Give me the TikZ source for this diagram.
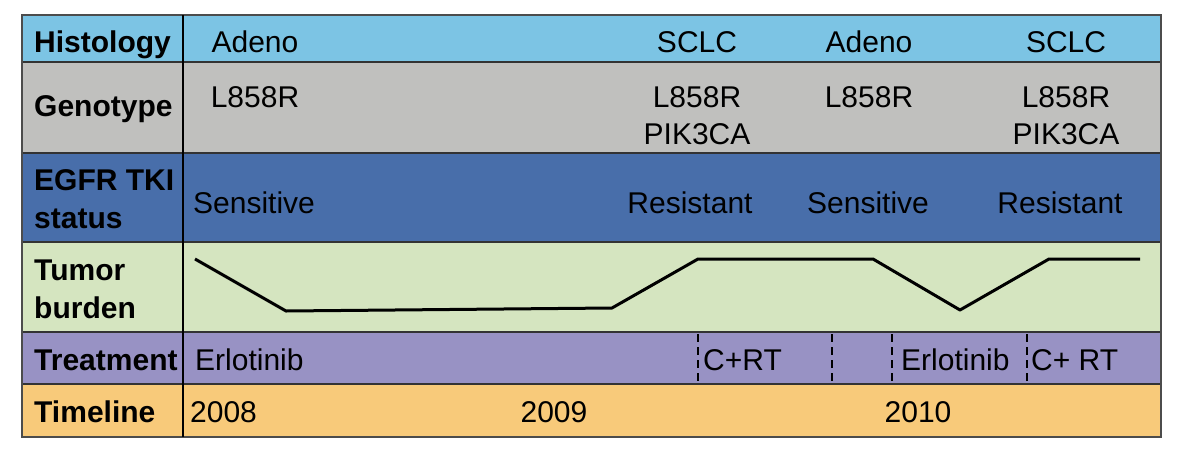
\documentclass[tikz,border=0pt]{standalone}
\usepackage{fontspec}
\setmainfont{Liberation Sans}
\usepackage{xcolor}
\usetikzlibrary{positioning, calc}

\definecolor{histcol}{RGB}{124,196,228}
\definecolor{genocol}{RGB}{192,192,190}
\definecolor{egfrcol}{RGB}{72,110,170}
\definecolor{tumorcol}{RGB}{213,229,192}
\definecolor{treatcol}{RGB}{152,146,196}
\definecolor{timecol}{RGB}{248,202,122}

\begin{document}
\begin{tikzpicture}[x=1pt, y=-1pt,
  every node/.style={font=\fontsize{30}{37}\selectfont, inner sep=0pt, anchor=base},
  rowlab/.style={font=\fontsize{30}{38}\selectfont\bfseries, anchor=base west, align=left},
  sepline/.style={draw=black!80, line width=1.5pt},
  treatdiv/.style={black, line width=2.2pt, dash pattern=on 8pt off 5pt},
  burden/.style={black, line width=3pt, line join=round}]
\useasboundingbox[fill=white] (0,0) rectangle (1186,458);
\pgfmathsetmacro{\xl}{22}
\pgfmathsetmacro{\xr}{1161}
\pgfmathsetmacro{\xd}{183}

% Row backgrounds
\foreach \ytop/\ybot/\col in {15/62/histcol, 62/153/genocol, 153/242/egfrcol,
  242/332/tumorcol, 332/384/treatcol, 384/437/timecol} {
  \fill[\col] (\xl,\ytop) rectangle (\xr,\ybot);
}

% Row separators
\foreach \y in {62,153,242,332,384} {
  \draw[sepline] (\xl,\y) -- (\xr,\y);
}
\draw[draw=black!70, line width=1.2pt] (\xl,15) rectangle (\xr,437);
\draw[black, line width=2.5pt] (\xd,15) -- (\xd,437);

% Row labels (base = last line)
\node[rowlab] (lHist) at (34,52) {Histology};
\node[rowlab] (lGeno) at (34,116) {Genotype};
\node[rowlab] (lEgfr) at (34,228) {EGFR TKI\\status};
\node[rowlab] (lTumor) at (34,318) {Tumor\\burden};
\node[rowlab] (lTreat) at (34,370) {Treatment};
\node[rowlab] (lTime) at (34,422) {Timeline};

% Histology
\foreach \x/\lab/\nm in {255/Adeno/hA, 697/SCLC/hB, 869/Adeno/hC, 1066/SCLC/hD} {
  \node (\nm) at (\x,52) {\lab};
}

% Genotype
\node (gA) at (255,107) {L858R};
\node[align=center] (gB) at (697,144) {L858R\\PIK3CA};
\node (gC) at (869,107) {L858R};
\node[align=center] (gD) at (1066,144) {L858R\\PIK3CA};

% EGFR TKI status
\foreach \x/\lab/\nm in {254/Sensitive/eA, 690/Resistant/eB, 868/Sensitive/eC, 1060/Resistant/eD} {
  \node (\nm) at (\x,213) {\lab};
}

% Tumor burden
\draw[burden] (195,259) -- (286,311) -- (612,308) -- (698,259) -- (873,259)
  -- (960,310) -- (1049,259) -- (1140,259);

% Treatment
\foreach \x in {698,832,892,1027} {
  \draw[treatdiv] (\x,334) -- (\x,383);
}
\node[anchor=base west] (tA) at (195,370) {Erlotinib};
\node[anchor=base west] (tB) at (703,370) {C+RT};
\node[anchor=base west] (tC) at (901,370) {Erlotinib};
\node[anchor=base west] (tD) at (1031,370) {C+ RT};

% Timeline
\node[anchor=base west] (y8) at (190,422) {2008};
\node (y9) at (554,422) {2009};
\node (y10) at (918,422) {2010};

\end{tikzpicture}
\end{document}
